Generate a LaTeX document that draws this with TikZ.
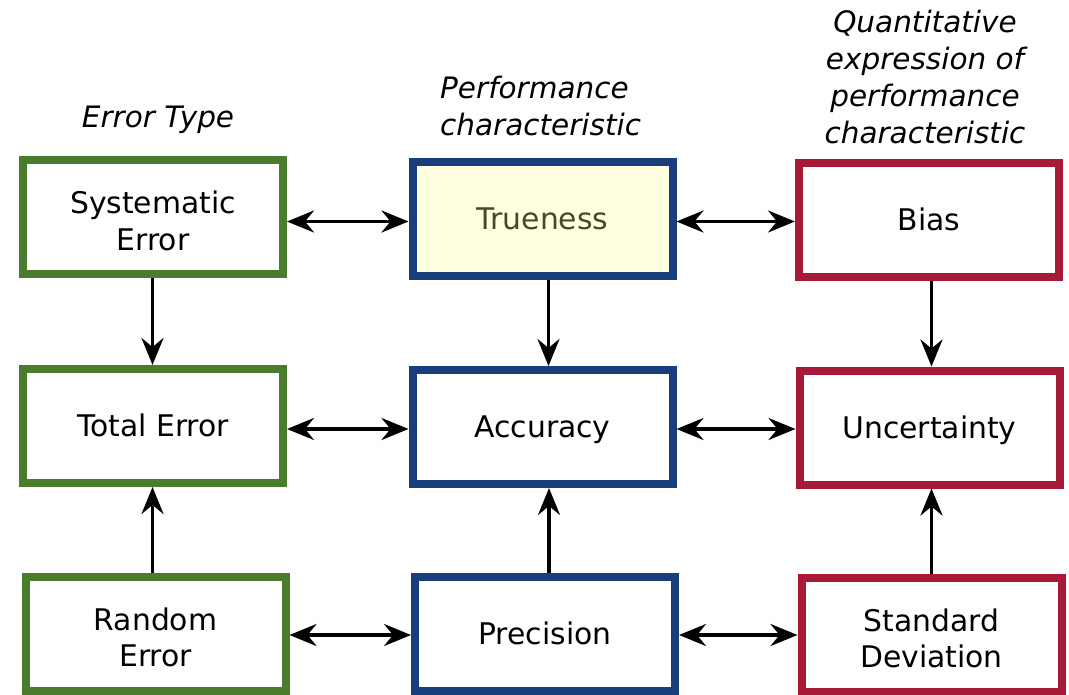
\documentclass[tikz,border=0pt]{standalone}
\usepackage{fontspec}
\setmainfont{DejaVu Sans}
\usetikzlibrary{arrows.meta}
\definecolor{cgreen}{RGB}{74,124,45}
\definecolor{cblue}{RGB}{24,62,125}
\definecolor{cred}{RGB}{166,25,55}
\definecolor{cyell}{RGB}{255,255,226}
\definecolor{colive}{RGB}{72,72,40}
\tikzset{
  box/.style={draw, line width=8pt, minimum width=260pt, minimum height=114pt,
    align=center, font=\fontsize{29.8}{36.5}\selectfont, inner sep=0pt,
    text height=21pt, text depth=0pt},
  two/.style={text height=66pt, text depth=0pt},
  gbox/.style={box, draw=cgreen},
  bbox/.style={box, draw=cblue},
  rbox/.style={box, draw=cred},
  head/.style={align=center, font=\fontsize{29.5}{37}\selectfont\itshape, inner sep=0pt},
  arr/.style={line width=3.5pt, -{Stealth[length=27pt, width=22pt, inset=9pt]}},
  biarr/.style={line width=3.5pt, {Stealth[length=27pt, width=22pt, inset=9pt]}-{Stealth[length=27pt, width=22pt, inset=9pt]}}
}
\begin{document}
\begin{tikzpicture}[x=1pt, y=-1pt]
\useasboundingbox (0,0) rectangle (1069,695);
% headers
\node[head] (h1) at (158,120) {Error Type};
\node[head, align=left, anchor=west] (h2) at (440,106.5) {Performance\\characteristic};
\node[head] (h3) at (925,77) {Quantitative\\expression of\\performance\\characteristic};
% boxes
\node[gbox, two] (sys) at (153,217.5) {Systematic\\Error};
\node[bbox, fill=cyell, text=colive] (tru) at (542.5,219) {Trueness};
\node[rbox] (bias) at (929,220.5) {Bias};
\node[gbox] (tot) at (153,426) {Total Error};
\node[bbox] (acc) at (542.5,427) {Accuracy};
\node[rbox] (unc) at (929.5,427.5) {Uncertainty};
\node[gbox, two] (ran) at (155.5,633.5) {Random\\Error};
\node[bbox] (pre) at (545,634) {Precision};
\node[rbox, two] (std) at (931.5,634.5) {Standard\\Deviation};
% horizontal double arrows
\draw[biarr] ([yshift=-4pt]sys.east) -- ([yshift=-4pt]sys.east -| tru.west);
\draw[biarr] ([yshift=-2.5pt]tru.east) -- ([yshift=-2.5pt]tru.east -| bias.west);
\draw[biarr] ([yshift=-3pt]tot.east) -- ([yshift=-3pt]tot.east -| acc.west);
\draw[biarr] ([yshift=-2pt]acc.east) -- ([yshift=-2pt]acc.east -| unc.west);
\draw[biarr] ([yshift=-1.5pt]ran.east) -- ([yshift=-1.5pt]ran.east -| pre.west);
\draw[biarr] ([yshift=-1pt]pre.east) -- ([yshift=-1pt]pre.east -| std.west);
% vertical arrows
\draw[arr] ([xshift=-0.5pt]sys.south) -- ([xshift=-0.5pt]sys.south |- tot.north);
\draw[arr] ([xshift=6pt]tru.south) -- ([xshift=6pt]tru.south |- acc.north);
\draw[arr] ([xshift=2.5pt]bias.south) -- ([xshift=2.5pt]bias.south |- unc.north);
\draw[arr] ([xshift=-3pt]ran.north) -- ([xshift=-3pt]ran.north |- tot.south);
\draw[arr] ([xshift=4pt]pre.north) -- ([xshift=4pt]pre.north |- acc.south);
\draw[arr] ([xshift=0pt]std.north) -- ([xshift=0pt]std.north |- unc.south);
\end{tikzpicture}
\end{document}
